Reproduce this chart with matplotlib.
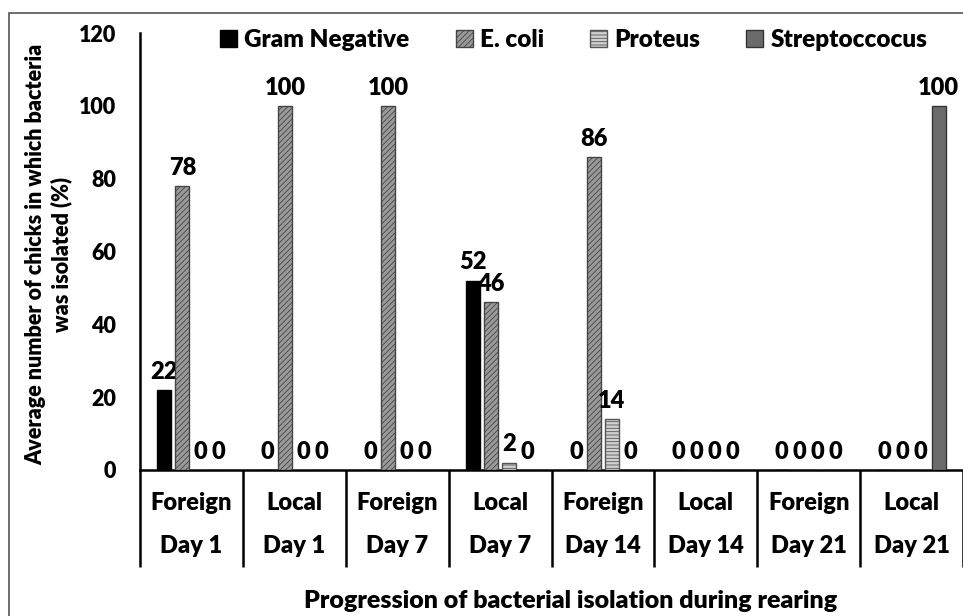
import matplotlib
matplotlib.use("Agg")
import matplotlib.pyplot as plt
from matplotlib.patches import Rectangle
import numpy as np

plt.rcParams['font.family'] = ['Lato', 'DejaVu Sans']
plt.rcParams['font.weight'] = 'bold'
plt.rcParams['hatch.linewidth'] = 0.6

origin = ["Foreign", "Local", "Foreign", "Local", "Foreign", "Local", "Foreign", "Local"]
days = ["Day 1", "Day 1", "Day 7", "Day 7", "Day 14", "Day 14", "Day 21", "Day 21"]
series_names = ["Gram Negative", "E. coli", "Proteus", "Streptoccocus"]
gram_negative = [22, 0, 0, 52, 0, 0, 0, 0]
e_coli = [78, 100, 100, 46, 86, 0, 0, 0]
proteus = [0, 0, 0, 2, 14, 0, 0, 0]
streptococcus = [0, 0, 0, 0, 0, 0, 0, 100]

series = [gram_negative, e_coli, proteus, streptococcus]
faces = ["#000000", "#9a9a9a", "#d0d0d0", "#6b6b6b"]
edges = ["#000000", "#444444", "#555555", "#333333"]
hatches = [None, "//////", "-----", None]

FS = 17
W = 'heavy'

fig = plt.figure(figsize=(9.63, 6.16), dpi=100)
ax = fig.add_axes([140/963, (616-470)/616, (963-140)/963, (470-33)/616])

x = np.arange(len(origin))
w = 0.136
step = 0.175
handles = []
for i, (vals, fc, ec, h, name) in enumerate(zip(series, faces, edges, hatches, series_names)):
    off = (i - 1.5) * step
    bars = ax.bar(x + off, vals, width=w, color=fc, edgecolor=ec, hatch=h,
                  linewidth=1.0, label=name, zorder=3)
    handles.append(bars)
    for xi, v in zip(x, vals):
        ax.text(xi + off, v + 2.0, f"{v}", ha='center', va='bottom',
                fontsize=FS, fontweight=W, color='black')

ax.set_xlim(-0.5, len(origin) - 0.5)
ax.set_ylim(0, 120)
ax.set_yticks(range(0, 121, 20))
ax.tick_params(axis='y', length=0, pad=17, labelsize=15.5)
for t in ax.get_yticklabels():
    t.set_fontweight(W)
ax.set_xticks([])
for s in ['top', 'right']:
    ax.spines[s].set_visible(False)
ax.spines['left'].set_linewidth(1.8)
ax.spines['bottom'].set_linewidth(1.8)
ax.spines['left'].set_bounds(0, 120)

# category dividers and two-row labels
trans = ax.get_xaxis_transform()
y_bot = (470 - 567) / 437
for b in np.arange(-0.5, len(origin), 1.0):
    ax.plot([b, b], [0, y_bot], transform=trans, color='black', lw=1.8,
            clip_on=False, solid_capstyle='butt')
for xi, o, d in zip(x, origin, days):
    ax.text(xi, (470 - 503) / 437, o, transform=trans, ha='center', va='center',
            fontsize=FS, fontweight=W)
    ax.text(xi, (470 - 546) / 437, d, transform=trans, ha='center', va='center',
            fontsize=FS, fontweight=W)

ax.set_ylabel("Average number of chicks in which bacteria\nwas isolated (%)",
              fontsize=15.5, fontweight=W)
ax.yaxis.set_label_coords((72 - 140) / 823, (470 - 254) / 437)

fig.text(0.593, (616 - 601) / 616, "Progression of bacterial isolation during rearing",
         ha='center', va='center', fontsize=18, fontweight=W)

leg = ax.legend(handles=handles, labels=series_names, loc='center',
                bbox_to_anchor=(0.527, (470 - 40) / 437), ncol=4, frameon=False,
                handlelength=0.7, handleheight=0.7, handletextpad=0.3,
                columnspacing=1.9, prop={'size': 17.5, 'weight': W})

# outer frame
fig.patches.append(Rectangle((9/963, -0.02), 1.0, (616-13)/616 + 0.02,
                             transform=fig.transFigure, fill=False,
                             edgecolor='#555555', lw=1.2, clip_on=False))

fig.savefig("out.png", dpi=100)
